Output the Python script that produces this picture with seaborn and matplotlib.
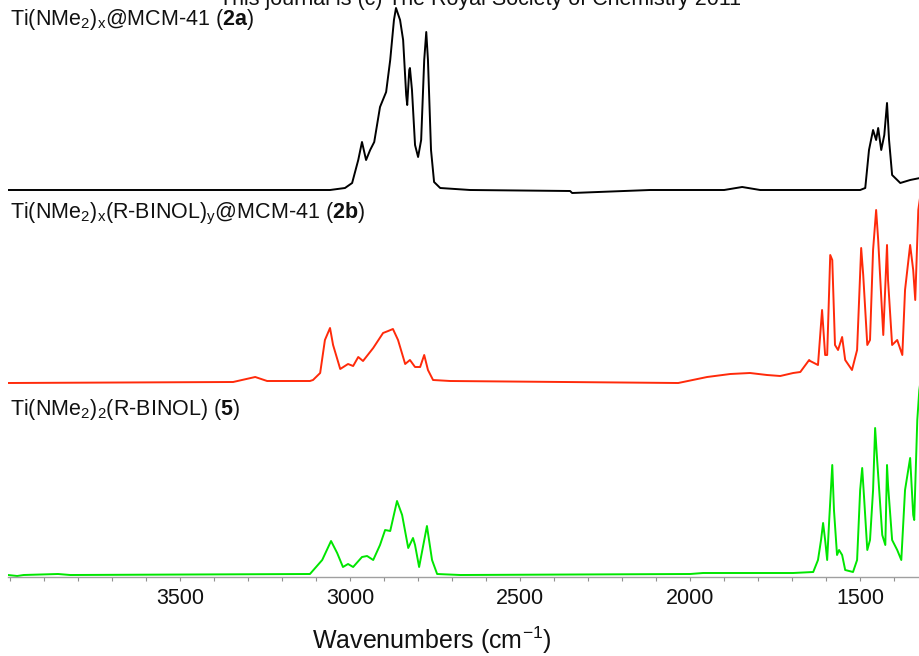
import numpy as np
import pandas as pd
import matplotlib
matplotlib.use("Agg")
import matplotlib.pyplot as plt
import seaborn as sns
from matplotlib.ticker import MultipleLocator

# ---------------- data ----------------
samples = ["2a", "2b", "5"]
labels = [r"Ti(NMe$_2$)$_\mathrm{x}$@MCM-41 ($\mathbf{2a}$)",
          r"Ti(NMe$_2$)$_\mathrm{x}$(R-BINOL)$_\mathrm{y}$@MCM-41 ($\mathbf{2b}$)",
          r"Ti(NMe$_2$)$_2$(R-BINOL) ($\mathbf{5}$)"]
colors = ["#000000", "#ff2a0a", "#00e600"]
offsets = [3.85, 1.92, 0.0]

wn_2a = [4006, 3118, 3059, 3015, 2994, 2976, 2965, 2953, 2941, 2929, 2912, 2894,
         2882, 2871, 2865, 2853, 2844, 2835, 2832, 2826, 2824, 2818, 2809, 2800,
         2791, 2782, 2776, 2771, 2762, 2753, 2735, 2647, 2353, 2347, 2118, 1900,
         1847, 1794, 1500, 1485, 1474, 1462, 1453, 1447, 1438, 1429, 1421, 1415,
         1406, 1382, 1353, 1324]
ab_2a = [0.0, 0.0, 0.0, 0.02, 0.07, 0.30, 0.48, 0.30, 0.40, 0.48, 0.83, 0.98,
         1.30, 1.70, 1.82, 1.70, 1.50, 0.95, 0.85, 1.20, 1.22, 1.00, 0.45, 0.33,
         0.50, 1.30, 1.58, 1.30, 0.40, 0.08, 0.02, 0.0, -0.01, -0.03, 0.0, 0.0,
         0.03, 0.0, 0.0, 0.02, 0.40, 0.60, 0.50, 0.62, 0.40, 0.55, 0.87, 0.50,
         0.15, 0.07, 0.10, 0.12]

wn_2b = [4006, 3344, 3279, 3244, 3118, 3109, 3088, 3074, 3059, 3050, 3029, 3006,
         2991, 2976, 2962, 2932, 2903, 2888, 2874, 2859, 2838, 2824, 2809, 2794,
         2782, 2771, 2756, 2706, 2035, 1950, 1882, 1824, 1774, 1735, 1697, 1676,
         1650, 1647, 1624, 1612, 1603, 1597, 1588, 1582, 1574, 1565, 1553, 1544,
         1524, 1509, 1497, 1491, 1479, 1471, 1462, 1453, 1447, 1432, 1421, 1418,
         1406, 1391, 1376, 1368, 1353, 1344, 1338, 1329, 1324]
ab_2b = [0.0, 0.01, 0.06, 0.02, 0.02, 0.03, 0.10, 0.43, 0.55, 0.38, 0.14, 0.19,
         0.17, 0.26, 0.22, 0.35, 0.50, 0.52, 0.54, 0.43, 0.19, 0.23, 0.16, 0.16,
         0.28, 0.13, 0.03, 0.02, 0.0, 0.06, 0.09, 0.10, 0.08, 0.07, 0.10, 0.11,
         0.23, 0.22, 0.18, 0.73, 0.28, 0.28, 1.28, 1.23, 0.38, 0.33, 0.46, 0.23,
         0.13, 0.33, 1.35, 1.08, 0.38, 0.43, 1.33, 1.73, 1.43, 0.48, 1.38, 1.03,
         0.38, 0.43, 0.28, 0.93, 1.38, 1.13, 0.83, 1.73, 1.85]

wn_5 = [4006, 3979, 3960, 3859, 3823, 3118, 3082, 3056, 3038, 3021, 3006, 2991,
        2965, 2950, 2932, 2912, 2897, 2882, 2862, 2847, 2829, 2815, 2809, 2797,
        2774, 2759, 2744, 2676, 2000, 1962, 1697, 1638, 1624, 1615, 1609, 1603,
        1597, 1591, 1582, 1577, 1568, 1562, 1553, 1544, 1521, 1509, 1500, 1494,
        1488, 1479, 1471, 1462, 1456, 1450, 1435, 1426, 1421, 1418, 1406, 1391,
        1379, 1368, 1353, 1344, 1341, 1332, 1326, 1324]
ab_5 = [0.0, -0.01, 0.0, 0.01, 0.0, 0.01, 0.15, 0.34, 0.22, 0.08, 0.11, 0.08,
        0.18, 0.19, 0.15, 0.30, 0.45, 0.44, 0.74, 0.60, 0.27, 0.37, 0.30, 0.08,
        0.49, 0.15, 0.01, 0.0, 0.01, 0.02, 0.02, 0.03, 0.15, 0.35, 0.52, 0.35,
        0.15, 0.55, 1.10, 0.65, 0.20, 0.25, 0.20, 0.05, 0.03, 0.15, 0.85, 1.07,
        0.75, 0.25, 0.35, 0.85, 1.47, 1.15, 0.40, 0.30, 1.10, 0.90, 0.35, 0.25,
        0.15, 0.85, 1.17, 0.60, 0.55, 1.55, 1.85, 1.90]

major_ticks = [3500, 3000, 2500, 2000, 1500]
x_title = r"Wavenumbers (cm$^{\mathrm{-1}}$)"
header = "This journal is (c) The Royal Society of Chemistry 2011"

# ---------------- build table ----------------
frames = []
for s, wn, ab, off in zip(samples, [wn_2a, wn_2b, wn_5], [ab_2a, ab_2b, ab_5], offsets):
    frames.append(pd.DataFrame({"wn": wn, "y": np.array(ab) + off, "sample": s}))
df = pd.concat(frames, ignore_index=True)

# ---------------- style ----------------
sns.set_theme(style="white")
plt.rcParams["font.family"] = ["Liberation Sans", "DejaVu Sans"]
plt.rcParams["mathtext.fontset"] = "custom"
plt.rcParams["mathtext.rm"] = "Liberation Sans"
plt.rcParams["mathtext.it"] = "Liberation Sans:italic"
plt.rcParams["mathtext.bf"] = "Liberation Sans:bold"

fig = plt.figure(figsize=(9.2, 6.56), dpi=100)
ax = fig.add_axes([8 / 920, 1 - 577 / 656, 912 / 920, 577 / 656])

for s, c in zip(samples, colors):
    sub = df[df["sample"] == s]
    sns.lineplot(data=sub, x="wn", y="y", color=c, linewidth=1.4,
                 estimator=None, sort=False, ax=ax, legend=False)

ax.set_xlim(4006, 1324)
ax.set_ylim(-0.02, 5.75)
ax.set_xticks(major_ticks)
ax.xaxis.set_minor_locator(MultipleLocator(100))
ax.tick_params(axis="x", which="both", direction="out", length=3, width=0.8,
               color="#909090", labelsize=15.5, pad=5, bottom=True,
               labelcolor="#111111")
ax.tick_params(axis="y", left=False, labelleft=False)
for side in ["top", "left", "right"]:
    ax.spines[side].set_visible(False)
ax.spines["bottom"].set_color("#a0a0a0")
ax.spines["bottom"].set_linewidth(1.0)
ax.set_xlabel("")
ax.set_ylabel("")

label_y = [19, 214, 409]
for lab, yy in zip(labels, label_y):
    fig.text(10 / 920, 1 - yy / 656, lab, fontsize=15.5, va="center", ha="left",
             color="#111111")

fig.text(480 / 920, 1 - 5 / 656, header, fontsize=15.5, ha="center",
         va="baseline", color="#111111")
fig.text(432 / 920, 1 - 640 / 656, x_title, fontsize=18, ha="center",
         va="center", color="#111111")

fig.savefig("out.png", dpi=100)
